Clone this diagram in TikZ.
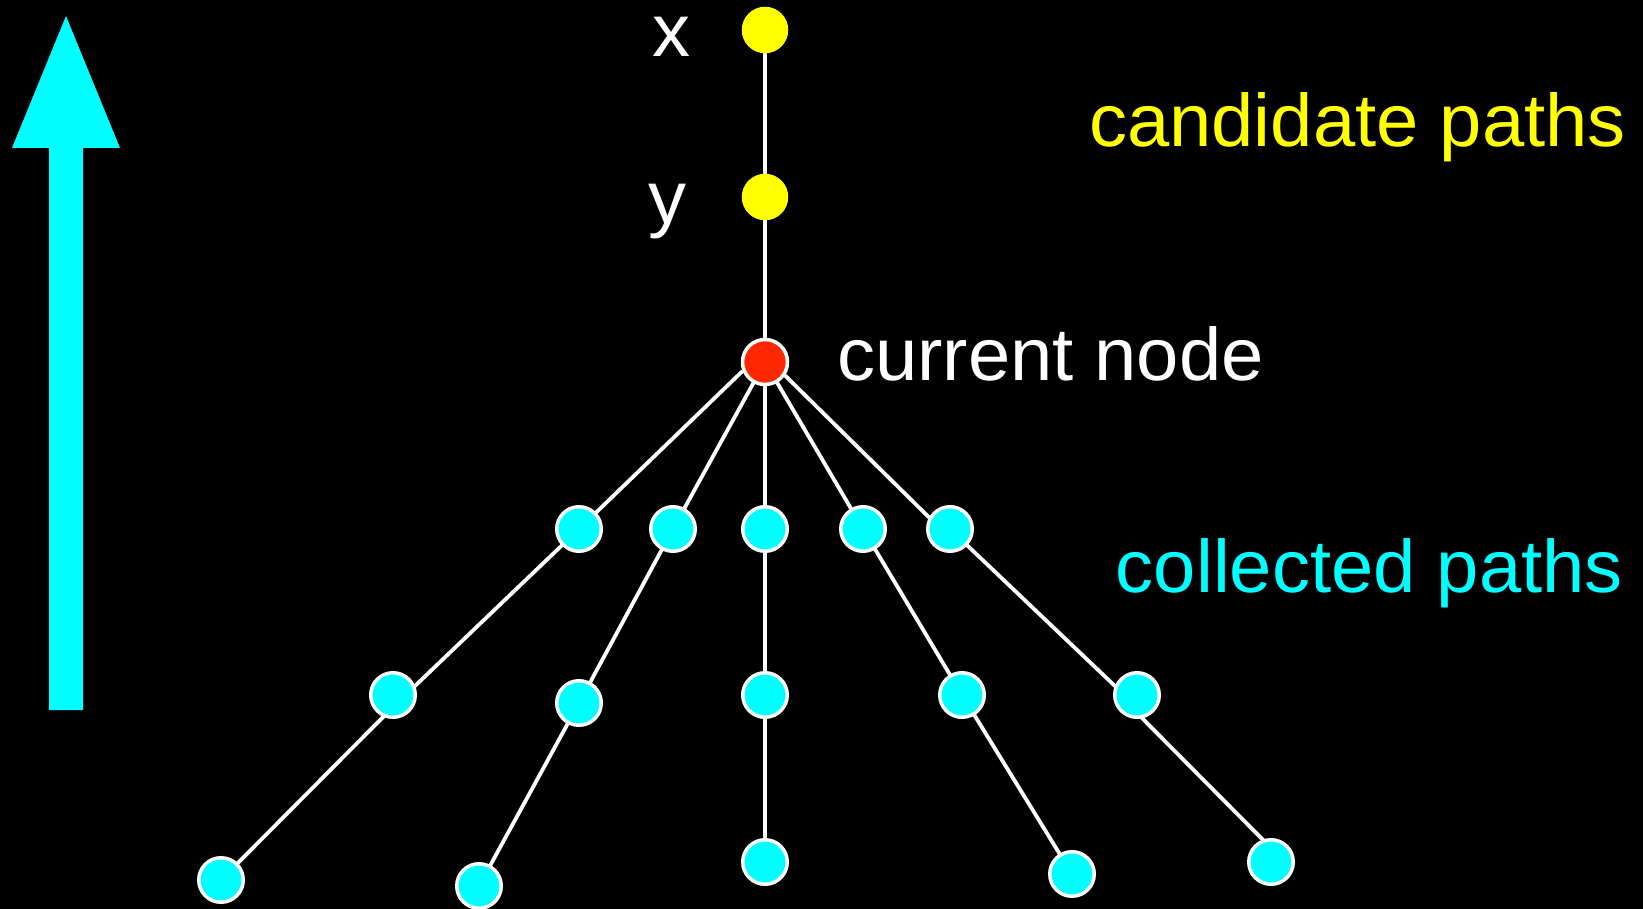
\documentclass[tikz,border=0pt]{standalone}
\usepackage{fontspec}
\setmainfont{Liberation Sans}[FakeStretch=1.02]
\usetikzlibrary{backgrounds}
\definecolor{cyn}{RGB}{0,255,255}
\definecolor{ylw}{RGB}{255,255,0}
\definecolor{rednode}{RGB}{255,40,0}
\tikzset{
  coll/.style={circle, fill=cyn, draw=white, line width=3.5pt, minimum size=44.5pt, inner sep=0pt},
  cand/.style={circle, fill=ylw, minimum size=46.5pt, inner sep=0pt},
  curr/.style={circle, fill=rednode, draw=white, line width=3.5pt, minimum size=45pt, inner sep=0pt},
  edge/.style={draw=white, line width=3.8pt},
  lbl/.style={inner sep=0pt, font=\fontsize{74.5}{80}\selectfont},
}
\begin{document}
\begin{tikzpicture}[x=1pt, y=-1pt]
\useasboundingbox (0,0) rectangle (1643,909);
% nodes
\node[cand] (x) at (765,30) {};
\node[cand] (y) at (765,197) {};
\node[curr] (c) at (765,362) {};
\node[coll] (a1) at (579,529) {};
\node[coll] (b1) at (673,529) {};
\node[coll] (m1) at (765,529) {};
\node[coll] (d1) at (863,529) {};
\node[coll] (e1) at (950,529) {};
\node[coll] (a2) at (393,695) {};
\node[coll] (b2) at (579,703) {};
\node[coll] (m2) at (765,695) {};
\node[coll] (d2) at (962,695) {};
\node[coll] (e2) at (1137,695) {};
\node[coll] (a3) at (221,880) {};
\node[coll] (b3) at (479,886) {};
\node[coll] (m3) at (765,862) {};
\node[coll] (d3) at (1072,874) {};
\node[coll] (e3) at (1271,862) {};
% labels
\node[lbl, text=white, anchor=base] (lx) at (671,57) {x};
\node[lbl, text=white, anchor=base] (ly) at (667,224) {y};
\node[lbl, text=white, anchor=base west] (lc) at (837,380) {current node};
\node[lbl, text=ylw, anchor=base east] (lcand) at (1626,147) {candidate paths};
\node[lbl, text=cyn, anchor=base east] (lcoll) at (1623,592) {collected paths};
\begin{scope}[on background layer]
\fill[black] (0,0) rectangle (1643,909);
% big arrow
\fill[cyn] (49,148) -- (49,710) -- (83,710) -- (83,148) -- (120,148) -- (66,16) -- (12,148) -- cycle;
% edges
\draw[edge] (x.center) -- (y.center);
\draw[edge] (y.center) -- (c.center);
% left branch
\draw[edge] (c.202) -- (a1.center);
\draw[edge] (a1.center) -- ([yshift=-12pt]a2.center);
\draw[edge] ([yshift=-12pt]a2.center) -- (a3.center);
% second branch
\draw[edge] (c.center) -- (b1.center);
\draw[edge] (b1.center) -- (b2.center);
\draw[edge] (b2.center) -- (b3.center);
% middle
\draw[edge] (c.center) -- (m1.center);
\draw[edge] (m1.center) -- (m2.center);
\draw[edge] (m2.center) -- (m3.center);
% fourth branch
\draw[edge] (c.center) -- (d1.center);
\draw[edge] (d1.center) -- (d2.center);
\draw[edge] (d2.center) -- (d3.center);
% right branch
\draw[edge] (c.-34) -- ([yshift=-9pt]e1.center);
\draw[edge] (e1.center) -- ([yshift=-12pt]e2.center);
\draw[edge] ([yshift=-18pt]e2.center) -- ([yshift=14pt]e3.center);
\end{scope}
\end{tikzpicture}
\end{document}
